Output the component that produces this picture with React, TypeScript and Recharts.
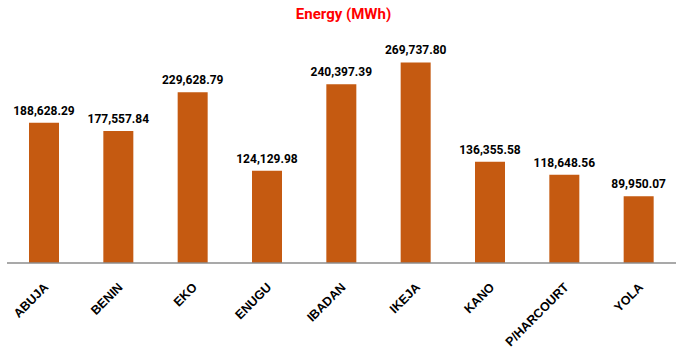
import { Bar, BarChart, LabelList, XAxis, YAxis } from 'recharts';

const discos = ['ABUJA', 'BENIN', 'EKO', 'ENUGU', 'IBADAN', 'IKEJA', 'KANO', 'P/HARCOURT', 'YOLA'];
const energy = [188628.29, 177557.84, 229628.79, 124129.98, 240397.39, 269737.8, 136355.58, 118648.56, 89950.07];

const data = discos.map((name, i) => ({ name, energy: energy[i] }));

const fmt = (v: number) =>
  v.toLocaleString('en-US', { minimumFractionDigits: 2, maximumFractionDigits: 2 });

function Tick(props: any) {
  const { x, y, payload } = props;
  return (
    <g transform={`translate(${x + 5},${y + 17})`}>
      <text
        textAnchor='end'
        transform='rotate(-45)'
        fontFamily='Liberation Sans, Arial, sans-serif'
        fontWeight={700}
        fontSize={12.5}
        fill='#000'
      >
        {payload.value}
      </text>
    </g>
  );
}

export default function App(): JSX.Element {
  return (
    <div style={{ position: 'absolute', left: 0, top: 0, width: 687, height: 356, background: '#fff' }}>
      <div
        style={{
          position: 'absolute',
          top: 5,
          left: 0,
          width: 687,
          textAlign: 'center',
          color: '#FF0000',
          fontFamily: 'Roboto, sans-serif',
          fontWeight: 700,
          fontSize: 15,
        }}
      >
        Energy (MWh)
      </div>
      <BarChart width={687} height={356} data={data} margin={{ top: 40, right: 11, left: 7, bottom: 0 }}>
        <XAxis
          dataKey='name'
          height={93}
          tickLine={false}
          axisLine={{ stroke: '#8c8c8c', strokeWidth: 1.5 }}
          tick={<Tick />}
          interval={0}
        />
        <YAxis hide domain={[0, 300000]} />
        <Bar dataKey='energy' fill='#C55A11' barSize={30} isAnimationActive={false}>
          <LabelList
            dataKey='energy'
            position='top'
            offset={8}
            formatter={(v: any) => fmt(Number(v))}
            style={{ fontFamily: 'Roboto, sans-serif', fontWeight: 700, fontSize: 12, fill: '#000' }}
          />
        </Bar>
      </BarChart>
    </div>
  );
}
